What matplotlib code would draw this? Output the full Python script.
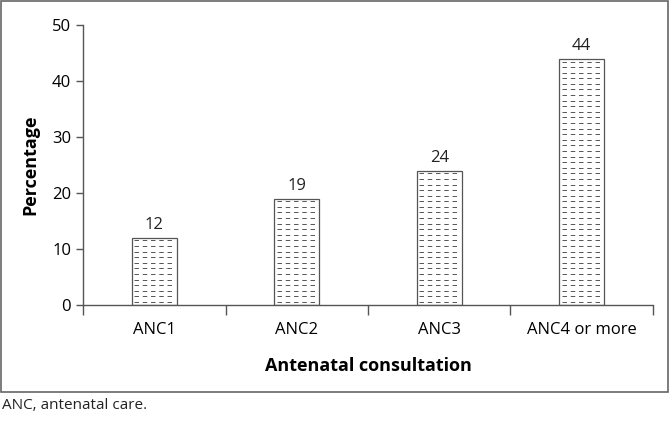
import numpy as np
import matplotlib.pyplot as plt
from matplotlib.patches import Rectangle

plt.rcParams['font.family'] = ['Open Sans', 'DejaVu Sans']

categories = ['ANC1', 'ANC2', 'ANC3', 'ANC4 or more']
percent = [12, 19, 24, 44]

fig = plt.figure(figsize=(6.7, 4.21), dpi=100)
ax = fig.add_axes([0.1239, 0.2755, 0.8507, 0.664])

x = np.arange(len(categories))
w = 0.313
ax.bar(x, percent, width=w, color='white', edgecolor='#555555', linewidth=0.9, zorder=2)

# dashed hatch inside each bar
step = 1.0
for xi, v in zip(x, percent):
    levels = np.arange(0.55, v - 0.4, step)
    ax.hlines(levels, xi - w / 2 + 0.015, xi + w / 2 - 0.015, colors='#555555',
              linewidth=0.7, linestyles=(0, (4.6, 3.9)), zorder=3)

for xi, v in zip(x, percent):
    ax.text(xi, v + 0.9, str(v), ha='center', va='bottom', fontsize=12, color='#222222')

ax.set_xlim(-0.5, len(categories) - 0.5)
ax.set_ylim(0, 50)
ax.set_yticks(range(0, 51, 10))
ax.set_xticks(x)
ax.set_xticklabels(categories)
ax.set_xticks(np.arange(-0.5, len(categories), 1), minor=True)
ax.tick_params(axis='x', which='major', length=0, pad=12, labelsize=12)
ax.tick_params(axis='x', which='minor', length=7, width=1, color='#555555')
ax.tick_params(axis='y', length=5, width=1, color='#555555', labelsize=12)

for s in ['top', 'right']:
    ax.spines[s].set_visible(False)
for s in ['left', 'bottom']:
    ax.spines[s].set_color('#555555')
    ax.spines[s].set_linewidth(1)

ax.set_ylabel('Percentage', fontsize=13, fontweight='bold', labelpad=9)
ax.set_xlabel('Antenatal consultation', fontsize=13, fontweight='bold', labelpad=14)

fig.patches.append(Rectangle((0.002, 0.069), 0.995, 0.928, transform=fig.transFigure,
                             fill=False, edgecolor='#666666', linewidth=1.2))
fig.text(0.003, 0.038, 'ANC, antenatal care.', fontsize=11, ha='left', va='center', color='#222222')

fig.savefig('out.png', dpi=100)
